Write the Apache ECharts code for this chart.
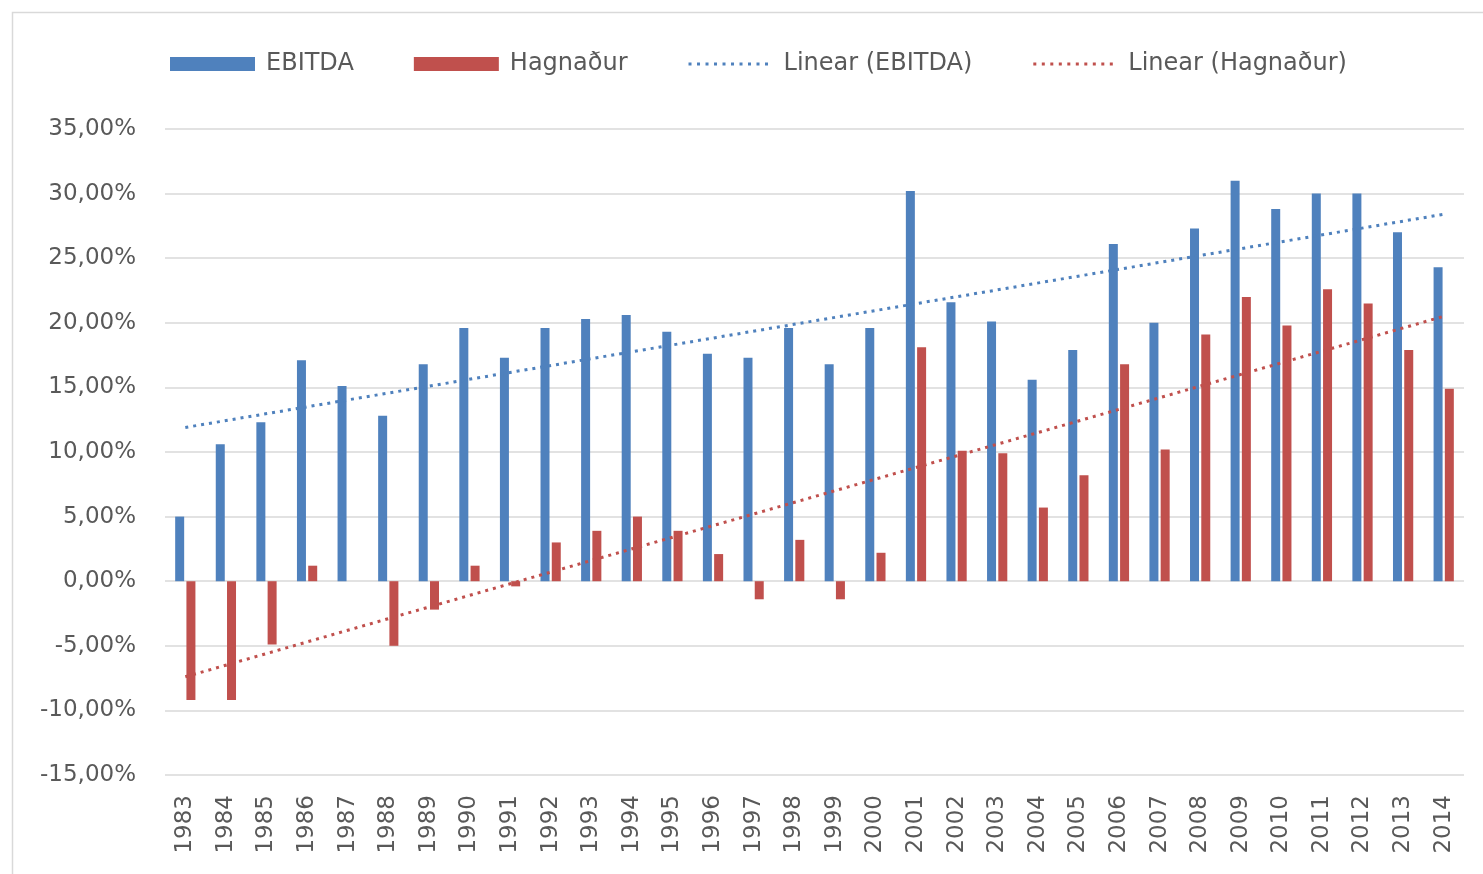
<!DOCTYPE html>
<html>
<head>
<meta charset="utf-8">
<script src="https://cdn.jsdelivr.net/npm/echarts@6/dist/echarts.min.js"></script>
<style>
html,body{margin:0;padding:0;background:#fff;}
#chart{width:1483px;height:874px;}
</style>
</head>
<body>
<div id="chart"></div>
<script>
const years = ['1983','1984','1985','1986','1987','1988','1989','1990','1991','1992','1993','1994','1995','1996','1997','1998','1999','2000','2001','2002','2003','2004','2005','2006','2007','2008','2009','2010','2011','2012','2013','2014'];
const ebitda = [5.0,10.6,12.3,17.1,15.1,12.8,16.8,19.6,17.3,19.6,20.3,20.6,19.3,17.6,17.3,19.6,16.8,19.6,30.2,21.6,20.1,15.6,17.9,26.1,20.0,27.3,31.0,28.8,30.0,30.0,27.0,24.3];
const hagnadur = [-9.2,-9.2,-4.9,1.2,0,-5.0,-2.2,1.2,-0.4,3.0,3.9,5.0,3.9,2.1,-1.4,3.2,-1.4,2.2,18.1,10.1,9.9,5.7,8.2,16.8,10.2,19.1,22.0,19.8,22.6,21.5,17.9,14.9];
// trendline endpoints (first and last year)
const trendEbitda = [11.9, 28.4];
const trendHagnadur = [-7.4, 20.5];
const seriesNames = ['EBITDA','Hagnaður','Linear (EBITDA)','Linear (Hagnaður)'];

function endpoints(pair){
  return years.map((y,i)=> i===0 ? pair[0] : (i===years.length-1 ? pair[1] : null));
}

// dotted legend icon: small squares within an 85x14 box
function dottedIcon(){
  let p = 'path://M0,0L0,0M85,14L85,14';
  for (let x = 1; x + 3 <= 85; x += 8.5) {
    p += 'M' + x + ',5.5L' + (x+3) + ',5.5L' + (x+3) + ',8.5L' + x + ',8.5Z';
  }
  return p;
}

const FONT = 'DejaVu Sans';
const TXT = '#595959';
const BLUE = '#4F81BD';
const RED = '#C0504D';

const chart = echarts.init(document.getElementById('chart'), null, {renderer:'canvas'});
chart.setOption({
  animation:false,
  backgroundColor:'#ffffff',
  graphic:[{type:'rect', shape:{x:12.5,y:12.5,width:1600,height:1000}, style:{fill:'none',stroke:'#D9D9D9',lineWidth:1.5}, z:-1}],
  legend:{
    top:47, left:165,
    itemWidth:85, itemHeight:14, itemGap:60,
    textStyle:{fontFamily:FONT,fontSize:24,color:TXT,padding:[0,0,0,6]},
    data:[
      {name:seriesNames[0], icon:'rect'},
      {name:seriesNames[1], icon:'rect'},
      {name:seriesNames[2], icon:dottedIcon(), itemStyle:{color:BLUE}},
      {name:seriesNames[3], icon:dottedIcon(), itemStyle:{color:RED}}
    ]
  },
  grid:{left:165,right:19,top:129,bottom:99},
  xAxis:{
    type:'category', data:years,
    axisLine:{show:false,onZero:false},
    axisTick:{show:false},
    axisLabel:{rotate:90,fontFamily:FONT,fontSize:23,color:TXT,margin:20,interval:0}
  },
  yAxis:{
    type:'value', min:-15, max:35, interval:5,
    axisLine:{show:false}, axisTick:{show:false},
    splitLine:{lineStyle:{color:'#D9D9D9',width:1.5}},
    axisLabel:{fontFamily:FONT,fontSize:23,color:TXT,margin:29,
      formatter:v=>v.toFixed(2).replace('.',',')+'%'}
  },
  series:[
    {name:seriesNames[0],type:'bar',data:ebitda,barWidth:9,barGap:'25%',itemStyle:{color:BLUE}},
    {name:seriesNames[1],type:'bar',data:hagnadur,barWidth:9,barGap:'25%',itemStyle:{color:RED}},
    {name:seriesNames[2],type:'line',data:endpoints(trendEbitda),connectNulls:true,symbol:'none',
      itemStyle:{color:BLUE},lineStyle:{color:BLUE,width:3,type:[3,5]},z:5},
    {name:seriesNames[3],type:'line',data:endpoints(trendHagnadur),connectNulls:true,symbol:'none',
      itemStyle:{color:RED},lineStyle:{color:RED,width:3,type:[3,5]},z:5}
  ]
});
</script>
</body>
</html>
